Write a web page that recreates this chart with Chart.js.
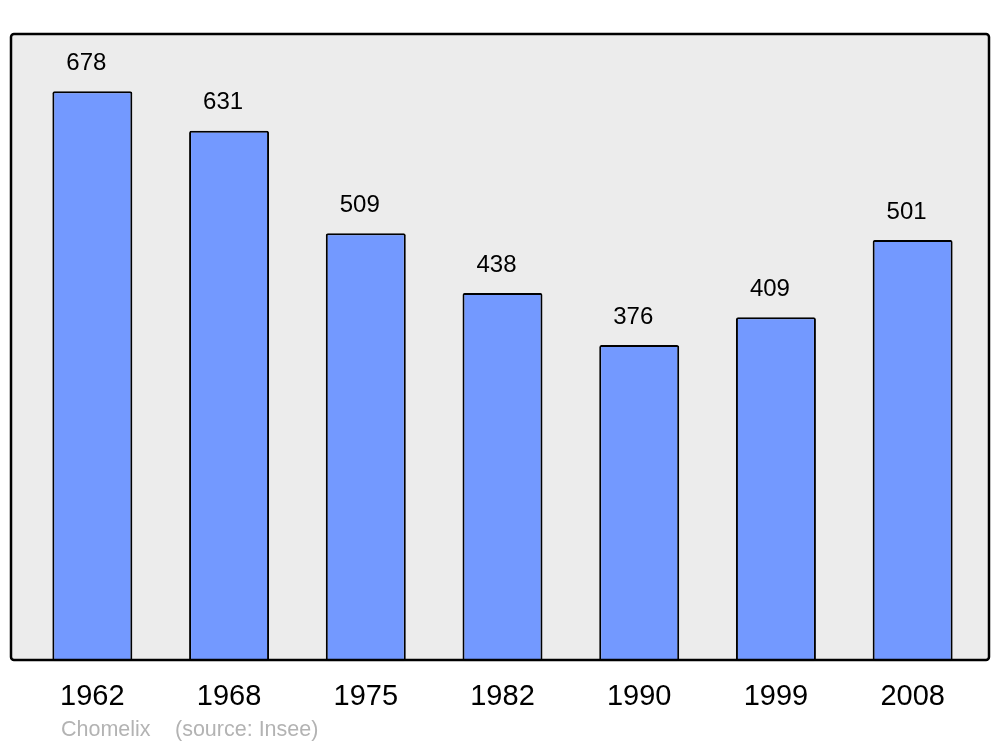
<!DOCTYPE html>
<html>
<head>
<meta charset="utf-8">
<script src="https://cdn.jsdelivr.net/npm/chart.js@4"></script>
<style>
   body { margin: 0; background: #ffffff; }
   canvas { display: block; }
</style>
</head>
<body>
<canvas id="popChart" width="1000" height="747"></canvas>
<script>
// Population data (Chomelix, source Insee)
const years = ["1962", "1968", "1975", "1982", "1990", "1999", "2008"];
const population = [678, 631, 509, 438, 376, 409, 501];
const yMax = 746;

// Grey rounded frame: fill behind the bars, outline on top of them
const framePlugin = {
   id: "frame",
   beforeDatasetsDraw(chart) {
      const ctx = chart.ctx;
      ctx.save();
      ctx.beginPath();
      ctx.roundRect(11, 34, 978, 626, 3);
      ctx.fillStyle = "#ececec";
      ctx.fill();
      ctx.restore();
   },
   afterDatasetsDraw(chart) {
      const ctx = chart.ctx;
      ctx.save();
      ctx.beginPath();
      ctx.roundRect(11, 34, 978, 626, 3);
      ctx.lineWidth = 2.5;
      ctx.strokeStyle = "#000000";
      ctx.stroke();
      ctx.restore();
   },
};

// Value labels above the bars and footer text
const labelsPlugin = {
   id: "labels",
   afterDatasetsDraw(chart) {
      const ctx = chart.ctx;
      const meta = chart.getDatasetMeta(0);
      ctx.save();
      ctx.font = "24px 'Liberation Sans', Arial, sans-serif";
      ctx.fillStyle = "#000000";
      ctx.textAlign = "center";
      ctx.textBaseline = "middle";
      meta.data.forEach((bar, i) => {
         ctx.fillText(String(population[i]), bar.x - 6, bar.y - 28);
      });

      ctx.font = "21.5px 'Liberation Sans', Arial, sans-serif";
      ctx.fillStyle = "#b3b3b3";
      ctx.textAlign = "left";
      ctx.fillText("Chomelix", 61, 730);
      ctx.fillText("(source: Insee)", 175, 730);
      ctx.restore();
   },
};

const ctx = document.getElementById("popChart").getContext("2d");
new Chart(ctx, {
   type: "bar",
   data: {
      labels: years,
      datasets: [
         {
            data: population,
            backgroundColor: "#7399ff",
            borderColor: "#000000",
            borderWidth: 2,
            borderRadius: 2,
            borderSkipped: false,
            categoryPercentage: 1,
            barPercentage: 0.585,
         },
      ],
   },
   options: {
      responsive: false,
      animation: false,
      events: [],
      layout: {
         padding: { top: 34, left: 24, right: 19, bottom: 15 },
      },
      plugins: {
         legend: { display: false },
         tooltip: { enabled: false },
      },
      scales: {
         x: {
            grid: { display: false, drawTicks: false },
            border: { display: false },
            ticks: {
               padding: 18,
               color: "#000000",
               font: { family: "'Liberation Sans', Arial, sans-serif", size: 29 },
            },
         },
         y: {
            display: false,
            min: 0,
            max: yMax,
         },
      },
   },
   plugins: [framePlugin, labelsPlugin],
});
</script>
</body>
</html>
